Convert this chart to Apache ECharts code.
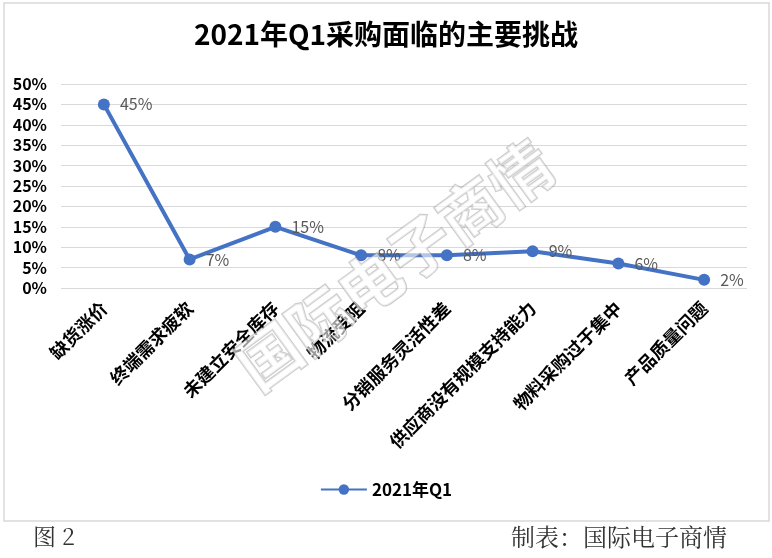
<!DOCTYPE html>
<html>

<head>
    <meta charset="utf-8">
    <title>2021年Q1采购面临的主要挑战</title>
    <script src="https://cdn.jsdelivr.net/npm/echarts@6/dist/echarts.min.js"></script>
    <style>
        html, body { margin: 0; padding: 0; background: #fff; }
        #main { width: 772px; height: 558px; }
    </style>
</head>

<body>
    <div id="main"></div>

    <script type="text/javascript">
        var categories = ['缺货涨价', '终端需求疲软', '未建立安全库存', '物流受阻', '分销服务灵活性差',
            '供应商没有规模支持能力', '物料采购过于集中', '产品质量问题'];
        var q1Values = [45, 7, 15, 8, 8, 9, 6, 2];
        var seriesName = '2021年Q1';
        var yTicks = { min: 0, max: 50, interval: 5 };

        var font = '"Noto Sans CJK SC", "Liberation Sans", sans-serif';
        var serif = '"Noto Serif CJK SC", "Noto Sans CJK SC", serif';
        var chart = echarts.init(document.getElementById('main'), null, { renderer: 'canvas' });

        var option = {
            backgroundColor: '#fff',
            textStyle: { fontFamily: font },
            title: {
                text: '2021年Q1采购面临的主要挑战',
                left: 'center',
                top: 15,
                textStyle: { fontSize: 28, fontWeight: 'bold', color: '#000', fontFamily: font }
            },
            legend: {
                bottom: 55,
                left: 'center',
                itemWidth: 46,
                itemHeight: 13,
                itemGap: 4,
                textStyle: { fontSize: 17, fontWeight: 'bold', color: '#000' },
                data: [seriesName]
            },
            grid: { left: 61, right: 25, top: 84, bottom: 270, containLabel: false },
            xAxis: {
                type: 'category',
                data: categories,
                boundaryGap: true,
                axisLine: { show: false },
                axisTick: { show: false },
                axisLabel: {
                    rotate: 45,
                    interval: 0,
                    margin: 17,
                    fontSize: 18,
                    fontWeight: 'bold',
                    color: '#000'
                }
            },
            yAxis: {
                type: 'value',
                min: yTicks.min,
                max: yTicks.max,
                interval: yTicks.interval,
                axisLine: { show: false },
                axisTick: { show: false },
                axisLabel: {
                    formatter: '{value}%',
                    fontSize: 16,
                    fontWeight: 'bold',
                    color: '#000',
                    margin: 14
                },
                splitLine: { lineStyle: { color: '#d9d9d9', width: 1 } }
            },
            graphic: [
                {
                    type: 'rect',
                    shape: { x: 4, y: 3, width: 765, height: 518 },
                    style: { fill: 'none', stroke: '#d9d9d9', lineWidth: 1.5 },
                    z: -1
                },
                {
                    type: 'text',
                    left: 33,
                    top: 525,
                    style: { text: '图 2', fontSize: 23, fill: '#333', fontFamily: serif }
                },
                {
                    type: 'text',
                    right: 45,
                    top: 525,
                    style: { text: '制表：国际电子商情', fontSize: 24, fill: '#333', fontFamily: serif }
                },
                {
                    type: 'text',
                    x: 395,
                    y: 265,
                    rotation: Math.PI * 36 / 180,
                    style: {
                        text: '国际电子商情',
                        fontSize: 62,
                        fontWeight: 'bold',
                        fill: 'rgba(255,255,255,0.6)',
                        stroke: 'rgba(150,150,150,0.5)',
                        lineWidth: 2,
                        align: 'center',
                        verticalAlign: 'middle',
                        fontFamily: font
                    },
                    z: 10
                }
            ],
            series: [{
                name: seriesName,
                type: 'line',
                data: q1Values,
                symbol: 'circle',
                symbolSize: 12,
                lineStyle: { color: '#4472c4', width: 4 },
                itemStyle: { color: '#4472c4' },
                label: {
                    show: true,
                    position: 'right',
                    distance: 10,
                    formatter: '{c}%',
                    fontSize: 16,
                    color: '#595959'
                }
            }]
        };

        chart.setOption(option);
    </script>
</body>

</html>
